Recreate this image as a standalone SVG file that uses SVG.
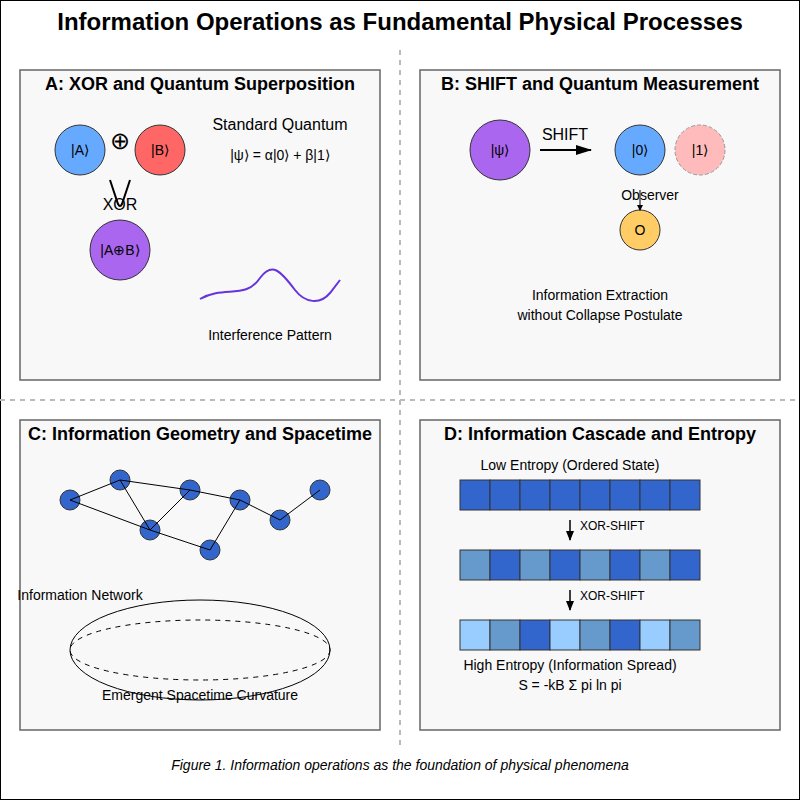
<svg xmlns="http://www.w3.org/2000/svg" width="800" height="800" viewBox="0 0 800 800">
  <defs>
    <marker id="arrow" markerUnits="userSpaceOnUse" markerWidth="16" markerHeight="10" refX="15" refY="5" orient="auto">
      <polygon points="0 0, 16 5, 0 10" fill="#000"/>
    </marker>
    <marker id="arrowSmall" markerUnits="userSpaceOnUse" markerWidth="10" markerHeight="8" refX="9" refY="4" orient="auto">
      <polygon points="0 0, 10 4, 0 8" fill="#000"/>
    </marker>
    <marker id="arrowTiny" markerUnits="userSpaceOnUse" markerWidth="6" markerHeight="6" refX="5" refY="3" orient="auto">
      <polygon points="0 0, 6 3, 0 6" fill="#000"/>
    </marker>
    <style>
      text { font-family: "Liberation Sans", Arial, sans-serif; fill: #000; }
      .title { font-size: 24px; font-weight: bold; text-anchor: middle; }
      .ptitle { font-size: 18px; font-weight: bold; text-anchor: middle; }
      .lbl { font-size: 14px; text-anchor: middle; }
      .lbl16 { font-size: 16px; text-anchor: middle; }
      .small { font-size: 12px; }
      .panel { fill: #f8f8f8; stroke: #666; stroke-width: 1.5; }
      .divider { stroke: #bbb; stroke-width: 2; stroke-dasharray: 5,5; fill: none; }
      .node { stroke: #333; stroke-width: 1; }
      .edge { stroke: #000; stroke-width: 1; fill: none; }
      .cell { stroke: #333; stroke-width: 1; }
      .dark { fill: #3366cc; }
      .mid { fill: #6699cc; }
      .light { fill: #99ccff; }
    </style>
  </defs>

  <!-- background and frame -->
  <rect x="0" y="0" width="800" height="800" fill="#fff" stroke="#000" stroke-width="2"/>

  <text class="title" x="400" y="30">Information Operations as Fundamental Physical Processes</text>

  <!-- quadrant dividers -->
  <line class="divider" x1="400" y1="50" x2="400" y2="750"/>
  <line class="divider" x1="0" y1="400" x2="800" y2="400"/>

  <!-- Panel A -->
  <g id="panelA">
    <rect class="panel" x="20" y="70" width="360" height="310"/>
    <text class="ptitle" x="200" y="90">A: XOR and Quantum Superposition</text>
    <g id="stateA">
      <circle class="node" cx="80" cy="150" r="25" fill="#66aaff"/>
      <text class="lbl" x="80" y="155">|A⟩</text>
    </g>
    <text x="120" y="149" font-size="24" text-anchor="middle">⊕</text>
    <g id="stateB">
      <circle class="node" cx="160" cy="150" r="25" fill="#ff6666"/>
      <text class="lbl" x="160" y="155">|B⟩</text>
    </g>
    <path d="M110,180 L118,204 Q120,208 122,204 L130,180" stroke="#000" stroke-width="2" fill="none"/>
    <text class="lbl16" x="120" y="210">XOR</text>
    <g id="stateAB">
      <circle class="node" cx="120" cy="250" r="30" fill="#aa66ee"/>
      <text class="lbl" x="120" y="255">|A⊕B⟩</text>
    </g>
    <text class="lbl16" x="280" y="130">Standard Quantum</text>
    <text class="lbl" x="280" y="160">|ψ⟩ = α|0⟩ + β|1⟩</text>
    <path d="M200,299 C225,285 245,300 260,278 C272,262 280,270 295,290 C305,303 320,305 330,293 L340,280" stroke="#6633dd" stroke-width="2" fill="none"/>
    <text class="lbl" x="270" y="340">Interference Pattern</text>
  </g>

  <!-- Panel B -->
  <g id="panelB">
    <rect class="panel" x="420" y="70" width="360" height="310"/>
    <text class="ptitle" x="600" y="90">B: SHIFT and Quantum Measurement</text>
    <g id="psi">
      <circle class="node" cx="500" cy="150" r="30" fill="#aa66ee"/>
      <text class="lbl" x="500" y="155">|ψ⟩</text>
    </g>
    <text class="lbl16" x="565" y="140">SHIFT</text>
    <g id="zero">
      <circle class="node" cx="640" cy="150" r="25" fill="#66aaff"/>
      <text class="lbl" x="640" y="155">|0⟩</text>
    </g>
    <g id="one">
      <circle cx="700" cy="150" r="25" fill="#ffbbbb" stroke="#999" stroke-width="1" stroke-dasharray="4,2"/>
      <text class="lbl" x="700" y="155" fill="#333">|1⟩</text>
    </g>
    <text class="lbl" x="650" y="200">Observer</text>
    <g id="observer">
      <circle class="node" cx="640" cy="230" r="20" fill="#ffcc66"/>
      <text class="lbl" x="640" y="235">O</text>
    </g>
    <text class="lbl" x="600" y="300">Information Extraction</text>
    <text class="lbl" x="600" y="320">without Collapse Postulate</text>
  </g>

  <!-- Panel C -->
  <g id="panelC">
    <rect class="panel" x="20" y="420" width="360" height="310"/>
    <text class="ptitle" x="200" y="440">C: Information Geometry and Spacetime</text>
    <g id="netNodes">
      <circle class="node dark" cx="70" cy="500" r="10"/>
      <circle class="node dark" cx="120" cy="480" r="10"/>
      <circle class="node dark" cx="190" cy="490" r="10"/>
      <circle class="node dark" cx="240" cy="500" r="10"/>
      <circle class="node dark" cx="280" cy="520" r="10"/>
      <circle class="node dark" cx="320" cy="490" r="10"/>
      <circle class="node dark" cx="150" cy="530" r="10"/>
      <circle class="node dark" cx="210" cy="550" r="10"/>
    </g>
    <text class="lbl" x="80" y="600">Information Network</text>
    <ellipse cx="200" cy="650" rx="130" ry="50" fill="none" stroke="#000" stroke-width="1"/>
    <ellipse cx="200" cy="650" rx="130" ry="30" fill="none" stroke="#000" stroke-width="1" stroke-dasharray="5,5"/>
    <text class="lbl" x="200" y="700">Emergent Spacetime Curvature</text>
  </g>

  <!-- Panel D -->
  <g id="panelD">
    <rect class="panel" x="420" y="420" width="360" height="310"/>
    <text class="ptitle" x="600" y="440">D: Information Cascade and Entropy</text>
    <text class="lbl" x="570" y="470">Low Entropy (Ordered State)</text>
    <g id="row1">
      <rect class="cell dark" x="460" y="480" width="30" height="30"/>
      <rect class="cell dark" x="490" y="480" width="30" height="30"/>
      <rect class="cell dark" x="520" y="480" width="30" height="30"/>
      <rect class="cell dark" x="550" y="480" width="30" height="30"/>
      <rect class="cell dark" x="580" y="480" width="30" height="30"/>
      <rect class="cell dark" x="610" y="480" width="30" height="30"/>
      <rect class="cell dark" x="640" y="480" width="30" height="30"/>
      <rect class="cell dark" x="670" y="480" width="30" height="30"/>
    </g>
    <text class="small" x="580" y="530">XOR-SHIFT</text>
    <g id="row2">
      <rect class="cell mid" x="460" y="550" width="30" height="30"/>
      <rect class="cell dark" x="490" y="550" width="30" height="30"/>
      <rect class="cell mid" x="520" y="550" width="30" height="30"/>
      <rect class="cell dark" x="550" y="550" width="30" height="30"/>
      <rect class="cell mid" x="580" y="550" width="30" height="30"/>
      <rect class="cell dark" x="610" y="550" width="30" height="30"/>
      <rect class="cell mid" x="640" y="550" width="30" height="30"/>
      <rect class="cell dark" x="670" y="550" width="30" height="30"/>
    </g>
    <text class="small" x="580" y="600">XOR-SHIFT</text>
    <g id="row3">
      <rect class="cell light" x="460" y="620" width="30" height="30"/>
      <rect class="cell mid" x="490" y="620" width="30" height="30"/>
      <rect class="cell dark" x="520" y="620" width="30" height="30"/>
      <rect class="cell light" x="550" y="620" width="30" height="30"/>
      <rect class="cell mid" x="580" y="620" width="30" height="30"/>
      <rect class="cell dark" x="610" y="620" width="30" height="30"/>
      <rect class="cell light" x="640" y="620" width="30" height="30"/>
      <rect class="cell mid" x="670" y="620" width="30" height="30"/>
    </g>
    <text class="lbl" x="570" y="670">High Entropy (Information Spread)</text>
    <text class="lbl" x="570" y="690">S = -kB Σ pi ln pi</text>
  </g>

  <!-- connectors -->
  <g id="connectors">
    <line x1="540" y1="150" x2="591" y2="150" stroke="#000" stroke-width="2" marker-end="url(#arrow)"/>
    <line x1="640" y1="190" x2="640" y2="210" stroke="#000" stroke-width="1" marker-end="url(#arrowTiny)"/>
    <line x1="570" y1="520" x2="570" y2="540" stroke="#000" stroke-width="1.5" marker-end="url(#arrowSmall)"/>
    <line x1="570" y1="590" x2="570" y2="610" stroke="#000" stroke-width="1.5" marker-end="url(#arrowSmall)"/>
    <line class="edge" x1="70" y1="500" x2="120" y2="480"/>
    <line class="edge" x1="120" y1="480" x2="190" y2="490"/>
    <line class="edge" x1="190" y1="490" x2="240" y2="500"/>
    <line class="edge" x1="120" y1="480" x2="150" y2="530"/>
    <line class="edge" x1="150" y1="530" x2="190" y2="490"/>
    <line class="edge" x1="70" y1="500" x2="150" y2="530"/>
    <line class="edge" x1="150" y1="530" x2="210" y2="550"/>
    <line class="edge" x1="210" y1="550" x2="240" y2="500"/>
    <line class="edge" x1="240" y1="500" x2="280" y2="520"/>
    <line class="edge" x1="280" y1="520" x2="320" y2="490"/>
  </g>

  <text x="400" y="770" font-size="14" font-style="italic" text-anchor="middle">Figure 1. Information operations as the foundation of physical phenomena</text>
</svg>
